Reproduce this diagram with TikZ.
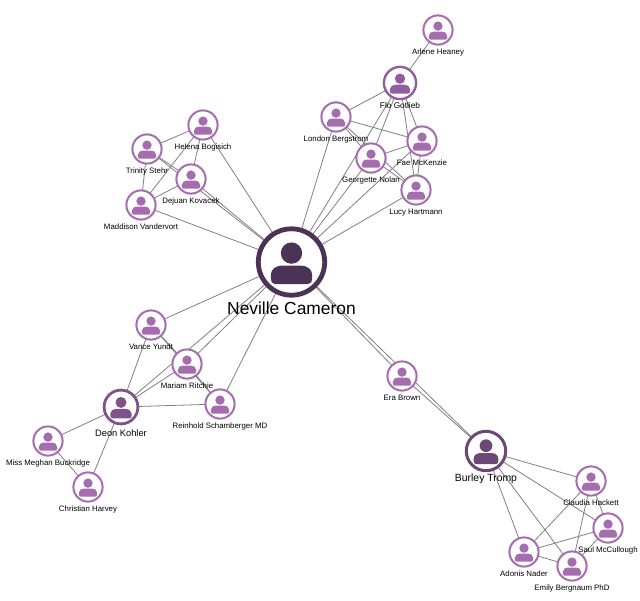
\documentclass[tikz,border=0pt]{standalone}
\usepackage{fontspec}
\setmainfont{Liberation Sans}
\usetikzlibrary{backgrounds}
\definecolor{smallpurple}{HTML}{A56CB0}
\definecolor{flopurple}{HTML}{935EA0}
\definecolor{deonpurple}{HTML}{7F5289}
\definecolor{burleypurple}{HTML}{6A4A74}
\definecolor{nevillepurple}{HTML}{4A3355}
\definecolor{linkgray}{HTML}{808080}
\tikzset{
  person/.style n args={3}{circle, draw=#2, fill=white, line width=#3, inner sep=0pt, outer sep=0pt,
    minimum size=2*#1 pt-#3,
    path picture={
      \begin{scope}[shift={(path picture bounding box.center)}, x=#1*0.1pt, y=-#1*0.1pt]
        \fill[#2] (0,-2.5) circle (3);
        \fill[#2] (-5.8,4.8) -- (-5.8,3.6) .. controls (-5.8,1.9) and (-4.2,1) .. (-2.6,1) -- (2.6,1)
          .. controls (4.2,1) and (5.8,1.9) .. (5.8,3.6) -- (5.8,4.8)
          .. controls (5.8,5.6) and (5.3,6.2) .. (4.6,6.2) -- (-4.6,6.2)
          .. controls (-5.3,6.2) and (-5.8,5.6) .. (-5.8,4.8) -- cycle;
      \end{scope}
    }},
  small/.style={person={15.6}{smallpurple}{2pt},
    label={[inner sep=0pt, label distance=3.8pt, font=\fontsize{7.85}{9}\selectfont]below:#1}},
  link/.style={linkgray, line width=0.8pt}
}
\begin{document}
\begin{tikzpicture}[x=1pt, y=-1pt]
    \useasboundingbox (0,0) rectangle (640,600);

    % centre
    \node[person={35.6}{nevillepurple}{4.8pt}, label={[inner sep=0pt, label distance=6pt, font=\fontsize{17.4}{18}\selectfont]below:Neville Cameron}] (neville) at (291.5,262) {};

    % top group
    \node[small=Arlene Heaney] (arlene) at (438,30) {};
    \node[person={17.3}{flopurple}{2.4pt}, label={[inner sep=0pt, label distance=3.5pt, font=\fontsize{8.3}{10}\selectfont]below:Flo Gotlieb}] (flo) at (400,83) {};
    \node[small=London Bergstrom] (london) at (336,117) {};
    \node[small=Fae McKenzie] (fae) at (422,141) {};
    \node[small=Georgette Nolan] (georgette) at (371,158) {};
    \node[small=Lucy Hartmann] (lucy) at (416,190) {};

    % left group
    \node[small=Helena Bogisich] (helena) at (203,125) {};
    \node[small=Trinity Stehr] (trinity) at (147,149) {};
    \node[small=Dejuan Kovacek] (dejuan) at (191,179) {};
    \node[small=Maddison Vandervort] (maddison) at (141,205) {};

    % lower left group
    \node[small=Vance Yundt] (vance) at (151,325) {};
    \node[small=Mariam Ritchie] (mariam) at (187,364) {};
    \node[small=Reinhold Schamberger MD] (reinhold) at (220,404) {};
    \node[person={18.3}{deonpurple}{2.8pt}, label={[inner sep=0pt, label distance=5.5pt, font=\fontsize{9.3}{11}\selectfont]below:Deon Kohler}] (deon) at (121,407) {};
    \node[small=Miss Meghan Buckridge] (meghan) at (48,441) {};
    \node[small=Christian Harvey] (christian) at (88,487) {};

    % lower right group
    \node[small=Era Brown] (era) at (402,376) {};
    \node[person={21.2}{burleypurple}{3pt}, label={[inner sep=0pt, label distance=3pt, font=\fontsize{10.4}{12}\selectfont]below:Burley Tromp}] (burley) at (486,451) {};
    \node[small=Claudia Hackett] (claudia) at (591,481) {};
    \node[small=Saul McCullough] (saul) at (608,528) {};
    \node[small=Adonis Nader] (adonis) at (524,552) {};
    \node[small=Emily Bergnaum PhD] (emily) at (572,566) {};

    \begin{scope}[on background layer]
      \draw[link] (neville) -- (london);
      \draw[link] (neville) -- (flo);
      \draw[link] (neville) -- (georgette);
      \draw[link] (neville) -- (fae);
      \draw[link] (neville) -- (lucy);
      \draw[link] (arlene) -- (flo);
      \draw[link] (flo) -- (london);
      \draw[link] (flo) -- (georgette);
      \draw[link] (flo) -- (fae);
      \draw[link] (flo) -- (lucy);
      \draw[link] (london) -- (fae);
      \draw[link] (london) -- (georgette);
      \draw[link] (london) -- (lucy);
      \draw[link] (georgette) -- (fae);
      \draw[link] (georgette) -- (lucy);
      \draw[link] (fae) -- (lucy);

      \draw[link] (neville) -- (helena);
      \draw[link] (neville) -- (trinity);
      \draw[link] (neville) -- (dejuan);
      \draw[link] (neville) -- (maddison);
      \draw[link] (helena) -- (trinity);
      \draw[link] (helena) -- (dejuan);
      \draw[link] (helena) -- (maddison);
      \draw[link] (trinity) -- (dejuan);
      \draw[link] (trinity) -- (maddison);
      \draw[link] (dejuan) -- (maddison);

      \draw[link] (neville) -- (vance);
      \draw[link] (neville) -- (mariam);
      \draw[link] (neville) -- (reinhold);
      \draw[link] (neville) -- (deon);
      \draw[link] (vance) -- (deon);
      \draw[link] (vance) -- (mariam);
      \draw[link] (vance) -- (reinhold);
      \draw[link] (mariam) -- (deon);
      \draw[link] (mariam) -- (reinhold);
      \draw[link] (deon) -- (reinhold);
      \draw[link] (deon) -- (meghan);
      \draw[link] (deon) -- (christian);
      \draw[link] (meghan) -- (christian);

      \draw[link] (neville) -- (era);
      \draw[link] (era) -- (burley);
      \draw[link] (neville) -- (burley);
      \draw[link] (burley) -- (claudia);
      \draw[link] (burley) -- (saul);
      \draw[link] (burley) -- (adonis);
      \draw[link] (burley) -- (emily);
      \draw[link] (claudia) -- (saul);
      \draw[link] (claudia) -- (adonis);
      \draw[link] (claudia) -- (emily);
      \draw[link] (saul) -- (adonis);
      \draw[link] (saul) -- (emily);
      \draw[link] (adonis) -- (emily);
    \end{scope}
\end{tikzpicture}
\end{document}
